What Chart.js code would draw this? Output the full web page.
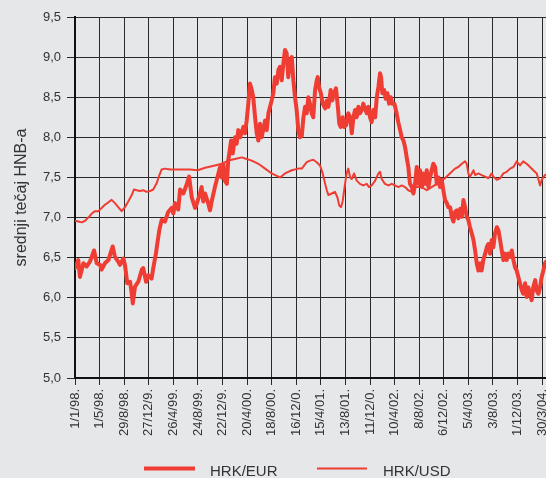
<!DOCTYPE html>
<html>
<head>
<meta charset="utf-8">
<script src="https://cdn.jsdelivr.net/npm/chart.js@4/dist/chart.umd.min.js"></script>
<style>
  html, body { margin: 0; padding: 0; background: #e6e7e9; }
  #wrap { width: 546px; height: 478px; }
</style>
</head>
<body>
<div id="wrap"><canvas id="chart" width="546" height="478"></canvas></div>
<script>
// days since 1/1/98 and daily average rate
const eurDays = [0,16,24,41,57,73,93,106,122,130,146,163,184,195,211,220,236,244,255,269,277,282,293,309,326,333,347,358,374,382,395,402,412,423,439,455,472,480,488,504,513,529,542,557,570,586,594,610,618,626,635,651,659,667,683,700,708,716,724,732,741,748,762,770,781,789,797,806,822,830,838,846,854,863,870,879,887,895,903,911,928,936,944,952,960,968,976,985,993,1001,1009,1017,1025,1033,1041,1050,1058,1066,1074,1082,1090,1098,1107,1115,1123,1131,1139,1147,1155,1163,1172,1180,1185,1191,1200,1209,1221,1229,1237,1248,1256,1264,1274,1283,1290,1297,1307,1313,1323,1334,1343,1351,1359,1367,1375,1383,1391,1400,1407,1416,1424,1432,1440,1448,1456,1465,1473,1481,1489,1494,1500,1509,1517,1525,1533,1541,1549,1559,1570,1578,1587,1595,1603,1611,1619,1627,1635,1644,1652,1660,1668,1676,1684,1693,1700,1709,1717,1725,1733,1741,1749,1758,1766,1774,1782,1790,1798,1806,1815,1822,1831,1839,1847,1855,1863,1871,1880,1888,1896,1904,1912,1920,1928,1937,1945,1953,1961,1969,1977,1985,1993,2002,2010,2018,2026,2034,2042,2050,2059,2067,2075,2083,2091,2099,2107,2115,2124,2132,2140,2148,2156,2164,2172,2181,2188,2197,2205,2213,2221,2229,2237,2246,2254,2262,2270,2278,2286,2294,2299];
const eurRate = [6.37,6.47,6.26,6.43,6.39,6.45,6.59,6.43,6.41,6.35,6.43,6.47,6.64,6.51,6.45,6.41,6.49,6.41,6.18,6.20,6.05,5.93,6.14,6.20,6.35,6.37,6.20,6.28,6.24,6.37,6.55,6.68,6.85,6.97,6.95,7.07,7.12,7.05,7.18,7.10,7.35,7.30,7.39,7.51,7.25,7.12,7.17,7.30,7.38,7.20,7.30,7.17,7.09,7.20,7.38,7.55,7.63,7.50,7.67,7.46,7.42,7.71,7.96,7.80,8.00,7.92,8.09,8.00,8.13,8.05,8.21,8.42,8.67,8.59,8.50,8.25,8.05,7.96,8.17,8.00,8.21,8.09,8.30,8.38,8.46,8.55,8.75,8.67,8.84,8.88,8.71,8.92,9.09,9.05,8.75,8.96,9.00,8.71,8.50,8.34,8.09,8.00,8.02,8.25,8.38,8.30,8.50,8.42,8.30,8.25,8.59,8.71,8.75,8.63,8.55,8.42,8.36,8.46,8.38,8.59,8.46,8.55,8.61,8.38,8.17,8.13,8.25,8.13,8.15,8.30,8.25,8.05,8.25,8.34,8.25,8.38,8.30,8.34,8.42,8.36,8.30,8.38,8.25,8.19,8.34,8.25,8.50,8.63,8.80,8.75,8.55,8.59,8.48,8.55,8.42,8.50,8.42,8.42,8.30,8.19,8.09,8.00,7.96,7.88,7.75,7.63,7.42,7.38,7.30,7.42,7.63,7.42,7.59,7.38,7.55,7.42,7.59,7.38,7.50,7.59,7.67,7.63,7.42,7.50,7.38,7.47,7.34,7.22,7.18,7.13,7.13,7.01,6.95,7.07,7.09,6.99,7.11,7.01,7.22,7.13,7.01,6.97,6.88,6.80,6.72,6.59,6.43,6.34,6.43,6.34,6.47,6.55,6.63,6.67,6.55,6.72,6.63,6.80,6.88,6.84,6.72,6.59,6.47,6.55,6.47,6.55,6.51,6.59,6.47,6.38,6.34,6.26,6.18,6.09,6.05,6.18,6.01,6.13,6.05,5.97,6.13,6.22,6.09,6.05,6.13,6.26,6.34,6.43,6.45];

const usdDays = [0,16,33,49,65,82,98,114,130,146,163,179,195,211,228,244,260,277,288,301,317,333,350,366,382,399,412,423,439,464,496,529,561,599,635,683,716,748,781,814,838,863,895,928,960,985,1001,1025,1058,1090,1107,1119,1131,1147,1163,1180,1196,1209,1221,1229,1237,1253,1269,1281,1290,1299,1307,1318,1326,1334,1343,1351,1362,1375,1391,1407,1424,1435,1448,1465,1481,1489,1497,1513,1530,1546,1562,1578,1595,1611,1627,1644,1660,1693,1717,1741,1766,1790,1806,1822,1839,1855,1871,1888,1904,1912,1920,1928,1937,1945,1953,1969,1985,2002,2018,2034,2042,2059,2075,2091,2107,2124,2140,2156,2172,2188,2205,2221,2237,2254,2270,2278,2294,2299];
const usdRate = [6.96,6.95,6.94,6.96,7.00,7.05,7.08,7.08,7.12,7.16,7.19,7.22,7.18,7.13,7.08,7.13,7.20,7.28,7.35,7.34,7.33,7.34,7.32,7.33,7.35,7.43,7.53,7.60,7.61,7.60,7.60,7.60,7.60,7.59,7.62,7.65,7.67,7.71,7.73,7.75,7.73,7.71,7.67,7.61,7.55,7.52,7.50,7.55,7.59,7.61,7.61,7.65,7.69,7.71,7.72,7.69,7.65,7.55,7.42,7.34,7.28,7.30,7.32,7.25,7.15,7.13,7.21,7.42,7.55,7.61,7.50,7.48,7.55,7.46,7.42,7.40,7.42,7.38,7.40,7.46,7.55,7.57,7.48,7.42,7.40,7.42,7.40,7.38,7.40,7.38,7.34,7.32,7.38,7.38,7.34,7.38,7.42,7.47,7.49,7.53,7.57,7.61,7.63,7.67,7.70,7.67,7.55,7.51,7.55,7.59,7.53,7.55,7.53,7.51,7.49,7.55,7.51,7.47,7.49,7.55,7.57,7.61,7.63,7.70,7.65,7.70,7.67,7.63,7.59,7.55,7.40,7.47,7.53,7.54];

// one label every 120 days
const tickStep = 120;
const lastDay = 2299;
const tickLabels = ['1/1/98.','1/5/98.','29/8/98.','27/12/9.','26/4/99.','24/8/99.','22/12/9.','20/4/00.','18/8/00.','16/12/0.','15/4/01.','13/8/01.','11/12/0.','10/4/02.','8/8/02.','6/12/02.','5/4/03.','3/8/03.','1/12/03.','30/3/04.'];
const yTicks = [5.0, 5.5, 6.0, 6.5, 7.0, 7.5, 8.0, 8.5, 9.0, 9.5];
const seriesNames = ['HRK/EUR', 'HRK/USD'];

const red = '#ef3d33';
const gridCol = '#2a2a2a';
const fontName = '"Liberation Sans", Arial, sans-serif';

// legend drawn by hand so it sits where the original one is
const legendPlugin = {
  id: 'handLegend',
  afterDraw(chart) {
    const ctx = chart.ctx;
    ctx.save();
    ctx.strokeStyle = red;
    ctx.lineWidth = 4;
    ctx.beginPath(); ctx.moveTo(144, 468.5); ctx.lineTo(195, 468.5); ctx.stroke();
    ctx.lineWidth = 2;
    ctx.beginPath(); ctx.moveTo(317, 468.5); ctx.lineTo(367, 468.5); ctx.stroke();
    ctx.fillStyle = '#333';
    ctx.font = '15px ' + fontName;
    ctx.textBaseline = 'alphabetic';
    ctx.fillText(seriesNames[0], 210, 476);
    ctx.fillText(seriesNames[1], 383, 476);
    ctx.restore();
  }
};

new Chart(document.getElementById('chart'), {
  type: 'line',
  data: {
    datasets: [
      {
        label: seriesNames[0],
        data: eurDays.map((d, i) => ({ x: d, y: eurRate[i] })),
        borderColor: red,
        borderWidth: 4,
        borderJoinStyle: 'round',
        borderCapStyle: 'round',
        pointRadius: 0,
        tension: 0
      },
      {
        label: seriesNames[1],
        data: usdDays.map((d, i) => ({ x: d, y: usdRate[i] })),
        borderColor: red,
        borderWidth: 2,
        borderJoinStyle: 'round',
        pointRadius: 0,
        tension: 0
      }
    ]
  },
  options: {
    responsive: false,
    animation: false,
    layout: { padding: { top: 17, right: 0, bottom: 0, left: 0 } },
    plugins: { legend: { display: false }, tooltip: { enabled: false } },
    scales: {
      x: {
        type: 'linear',
        min: 0,
        max: lastDay,
        afterBuildTicks: s => { s.ticks = tickLabels.map((_, i) => ({ value: i * tickStep })); },
        afterFit: s => { s.height = 100; s.paddingLeft = 0; s.paddingRight = 0; },
        ticks: {
          autoSkip: false,
          minRotation: 90,
          maxRotation: 90,
          padding: 4,
          color: '#333',
          font: { family: fontName, size: 13 },
          callback: (v, i) => tickLabels[i]
        },
        grid: { color: gridCol, lineWidth: 1, tickLength: 7 },
        border: { color: '#111', width: 2 }
      },
      y: {
        min: 5,
        max: 9.5,
        afterBuildTicks: s => { s.ticks = yTicks.map(v => ({ value: v })); },
        afterFit: s => { s.width = 75; s.paddingTop = 0; s.paddingBottom = 0; },
        ticks: {
          padding: 6,
          color: '#333',
          font: { family: fontName, size: 13 },
          callback: v => v.toFixed(1).replace('.', ',')
        },
        grid: { color: gridCol, lineWidth: 1, tickLength: 8 },
        border: { color: '#111', width: 2 },
        title: {
          display: true,
          text: 'srednji tečaj HNB-a',
          color: '#333',
          font: { family: fontName, size: 16 },
          padding: { top: 12, bottom: 0 }
        }
      }
    }
  },
  plugins: [legendPlugin]
});
</script>
</body>
</html>
